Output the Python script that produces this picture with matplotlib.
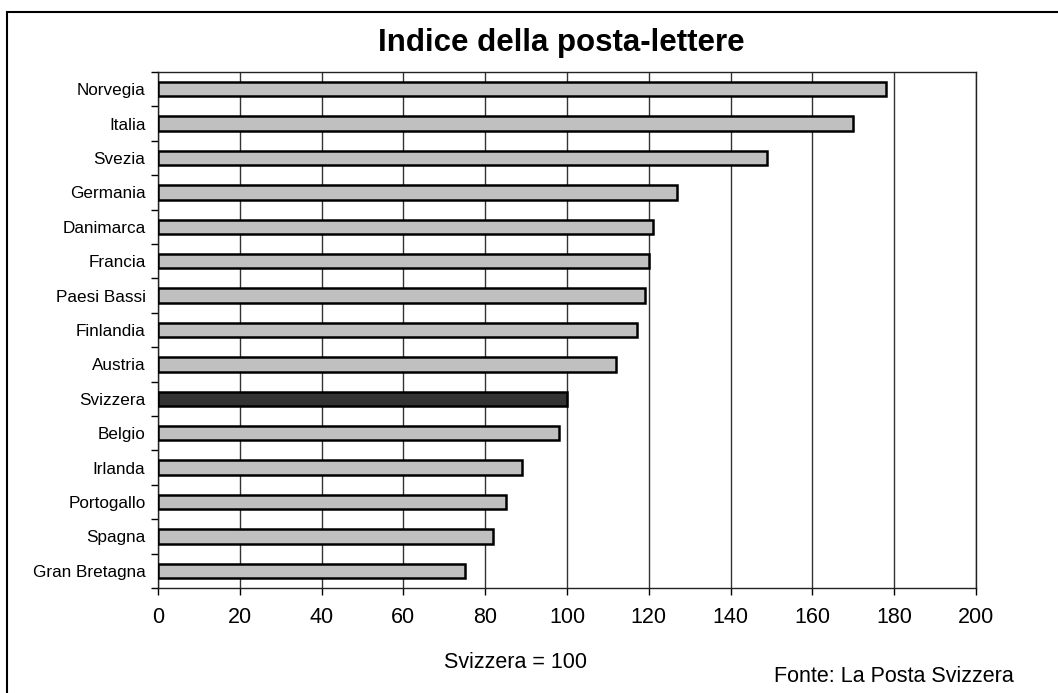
import matplotlib
matplotlib.use("Agg")
import matplotlib.pyplot as plt
from matplotlib.patches import Rectangle

plt.rcParams["font.family"] = ["Liberation Sans", "DejaVu Sans"]

# letter-post index per country, Switzerland = 100
countries = ["Norvegia", "Italia", "Svezia", "Germania", "Danimarca", "Francia",
             "Paesi Bassi", "Finlandia", "Austria", "Svizzera", "Belgio",
             "Irlanda", "Portogallo", "Spagna", "Gran Bretagna"]
index_values = [178, 170, 149, 127, 121, 120, 119, 117, 112, 100, 98, 89, 85, 82, 75]
highlight = "Svizzera"
x_ticks = [0, 20, 40, 60, 80, 100, 120, 140, 160, 180, 200]

W, H = 1058, 693
fig = plt.figure(figsize=(W / 100, H / 100), dpi=100)
ax = fig.add_axes([158 / W, 1 - 588 / H, (976 - 158) / W, (588 - 72) / H])

# outer frame (runs off the right and bottom edges)
fig.patches.append(Rectangle((7 / W, -0.05), 1.2, 1 - 12 / H + 0.05,
                             transform=fig.transFigure, fill=False,
                             edgecolor="black", linewidth=1.5))

colors = ["#333333" if c == highlight else "#c0c0c0" for c in countries]
ypos = list(range(len(countries)))
ax.barh(ypos, index_values, height=0.42, color=colors,
        edgecolor="black", linewidth=1.8, zorder=3)

ax.set_ylim(len(countries) - 0.5, -0.5)
ax.set_xlim(0, 200)
ax.set_xticks(x_ticks)
ax.set_xticklabels([str(t) for t in x_ticks], fontsize=15.5)
ax.xaxis.grid(True, color="#333333", linewidth=1.0, zorder=0)

ax.set_yticks(ypos)
ax.set_yticklabels(countries, fontsize=12.3)
ax.tick_params(axis="y", length=0, pad=9)
# ticks between categories on the y axis
ax.set_yticks([i + 0.5 for i in range(-1, len(countries))], minor=True)
ax.tick_params(axis="y", which="minor", length=5, width=1, direction="out")
ax.tick_params(axis="x", length=5, width=1, direction="out", pad=9)

for side in ["left", "bottom", "top", "right"]:
    ax.spines[side].set_linewidth(1.0)
    ax.spines[side].set_color("#222222")

fig.text(561 / W, 1 - 43 / H, "Indice della posta-lettere", fontsize=22.5,
         fontweight="bold", ha="center", va="center")
fig.text(515 / W, 1 - 662 / H, "Svizzera = 100", fontsize=15.5,
         ha="center", va="center")
fig.text(894 / W, 1 - 677 / H, "Fonte: La Posta Svizzera", fontsize=15.5,
         ha="center", va="center")

fig.savefig("out.png", dpi=100)
